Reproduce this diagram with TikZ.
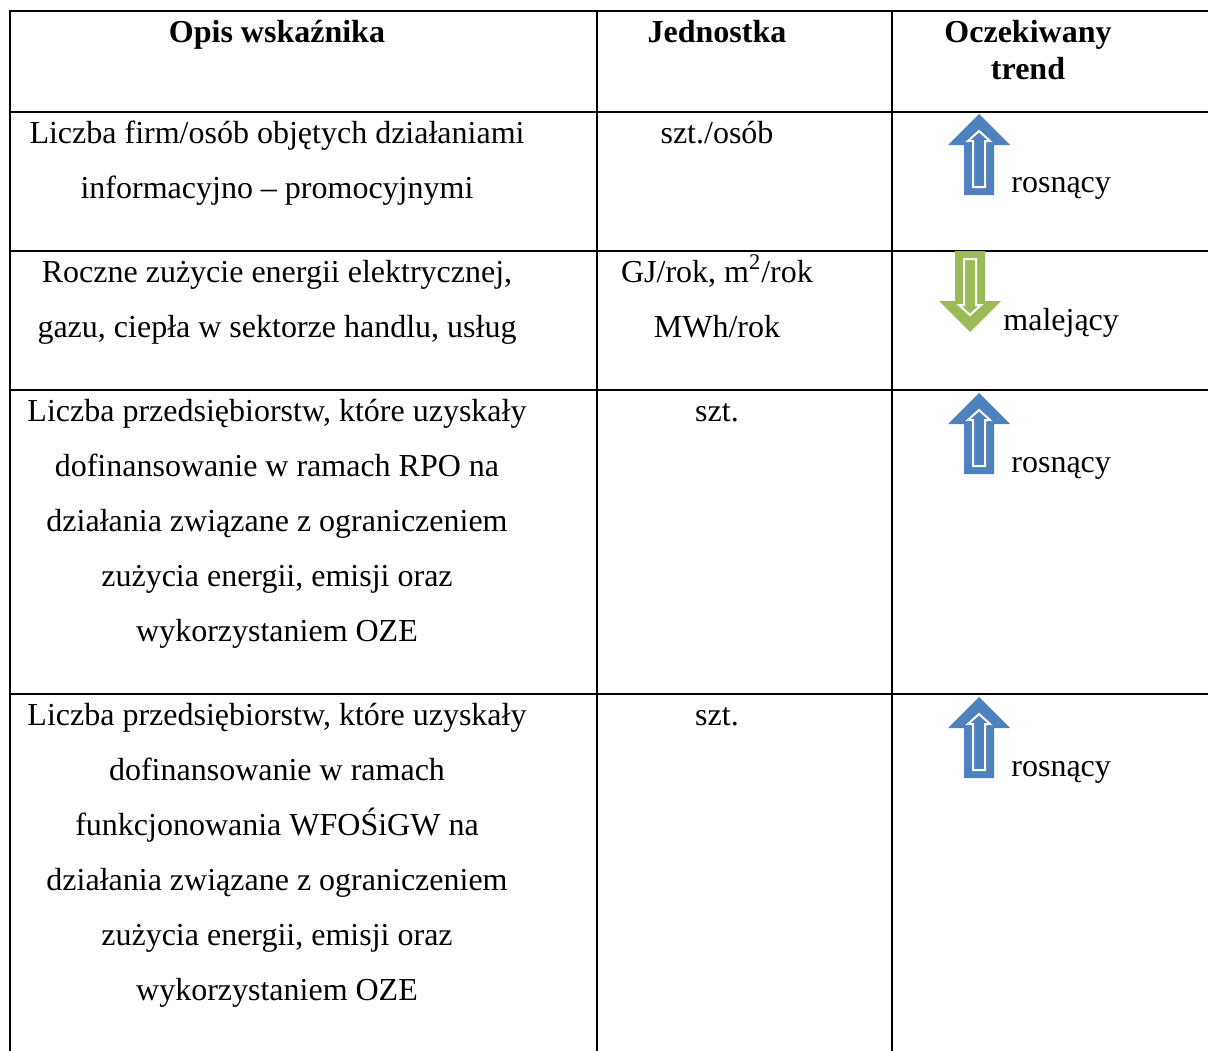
\documentclass[tikz,border=0pt]{standalone}
\usepackage{fontspec}
\setmainfont{Liberation Serif}
\definecolor{arrowblue}{HTML}{4F81BD}
\definecolor{arrowgreen}{HTML}{9BBB59}
\tikzset{
  trendarrow/.pic={
    \fill[pic actions] (0,0) -- (31,31) -- (15,31) -- (15,81) -- (-15,81)
      -- (-15,31) -- (-31,31) -- cycle;
    \draw[white, line width=1pt, line join=miter] (0,17) -- (11,27) -- (6,27)
      -- (6,73) -- (-6,73) -- (-6,27) -- (-11,27) -- cycle;
  }
}
\begin{document}
\begin{tikzpicture}[x=0.5pt, y=-0.5pt]
  % base of a cell = baseline of its last line
  \tikzstyle{rule}=[line width=1.4pt, line cap=rect]
  \tikzstyle{cell}=[anchor=base, inner sep=0pt, align=center,
    font=\fontsize{16}{27.5}\selectfont]
  \tikzstyle{head}=[anchor=base, inner sep=0pt, align=center,
    font=\fontsize{16}{18.5}\selectfont\bfseries]
  \tikzstyle{trendlabel}=[anchor=base west, inner sep=0pt,
    font=\fontsize{16}{18.5}\selectfont]
  \useasboundingbox (0,0) rectangle (1208,1050);
  % table rules
  \foreach \y in {11, 112, 251, 390, 694} {
    \draw[rule] (10, \y) -- (1208, \y);
  }
  \foreach \x in {10, 597, 892} {
    \draw[rule] (\x, 11) -- (\x, 1050);
  }
  % header
  \node[head] (opis-h) at (277, 42) {Opis wskaźnika};
  \node[head] (jedn-h) at (717, 42) {Jednostka};
  \node[head] (trend-h) at (1028, 79) {Oczekiwany\\trend};
  % row 1
  \node[cell] (opis-1) at (277, 198) {Liczba firm/osób objętych działaniami\\informacyjno – promocyjnymi};
  \node[cell] (jedn-1) at (717, 143) {szt./osób};
  \pic[fill=arrowblue] at (979, 114) {trendarrow};
  \node[trendlabel] (trend-1) at (1011, 192) {rosnący};
  % row 2
  \node[cell] (opis-2) at (277, 337) {Roczne zużycie energii elektrycznej,\\gazu, ciepła w sektorze handlu, usług};
  \node[cell] (jedn-2) at (717, 337) {GJ/rok, m\textsuperscript{2}/rok\\MWh/rok};
  \pic[fill=arrowgreen, rotate=180] at (970, 332) {trendarrow};
  \node[trendlabel] (trend-2) at (1003, 330) {malejący};
  % row 3
  \node[cell] (opis-3) at (277, 641) {Liczba przedsiębiorstw, które uzyskały\\dofinansowanie w ramach RPO na\\działania związane z ograniczeniem\\zużycia energii, emisji oraz\\wykorzystaniem OZE};
  \node[cell] (jedn-3) at (717, 421) {szt.};
  \pic[fill=arrowblue] at (979, 393) {trendarrow};
  \node[trendlabel] (trend-3) at (1011, 472) {rosnący};
  % row 4
  \node[cell] (opis-4) at (277, 1000) {Liczba przedsiębiorstw, które uzyskały\\dofinansowanie w ramach\\funkcjonowania WFOŚiGW na\\działania związane z ograniczeniem\\zużycia energii, emisji oraz\\wykorzystaniem OZE};
  \node[cell] (jedn-4) at (717, 725) {szt.};
  \pic[fill=arrowblue] at (979, 697) {trendarrow};
  \node[trendlabel] (trend-4) at (1011, 776) {rosnący};
\end{tikzpicture}
\end{document}
